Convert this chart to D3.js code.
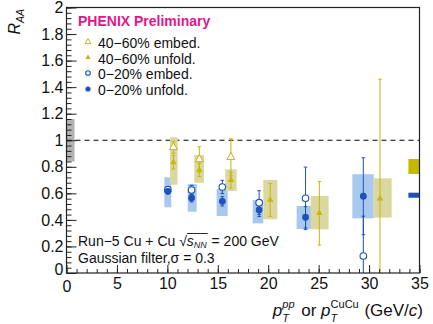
<!DOCTYPE html>
<html><head><meta charset="utf-8">
<script src="https://cdn.jsdelivr.net/npm/d3@7"></script>
<style>body{margin:0;background:#fff;} svg{display:block;font-family:"Liberation Sans",Arial,sans-serif;} text{white-space:pre;}</style>
</head><body>
<svg id="c" width="433" height="324"></svg>
<script>
// ---------- data ----------
const blueX        = [10.05, 12.4, 15.45, 19.1, 23.7, 29.43];
const blueUnfold   = [0.615, 0.565, 0.54, 0.475, 0.42, 0.578];
const blueUnfoldEr = [0.02, 0.03, 0.035, 0.05, 0.08, 0.29];
const blueEmbed    = [0.628, 0.625, 0.648, 0.53, 0.563, 0.128];
const blueEmbedEr  = [0.02, 0.035, 0.05, 0.09, 0.235, 0.3];
const blueSysLo    = [0.495, 0.462, 0.429, 0.374, 0.331, 0.412];
const blueSysHi    = [0.721, 0.670, 0.633, 0.550, 0.505, 0.744];
const blueBinLo    = [9.70, 12.02, 14.89, 18.46, 22.82, 28.34];
const blueBinHi    = [10.39, 12.91, 15.98, 19.51, 24.57, 30.46];

const yelX         = [10.6, 13.17, 16.3, 20.2, 25.07, 31.08];
const yelUnfold    = [0.834, 0.776, 0.70, 0.55, 0.45, 0.56];
const yelUnfoldEr  = [0.05, 0.05, 0.06, 0.123, 0.24, 0.9];
const yelEmbed     = [0.947, 0.856, 0.872, null, null, null];
const yelEmbedEr   = [0.045, 0.095, 0.14, null, null, null];
const yelSysLo     = [0.665, 0.680, 0.618, 0.405, 0.329, 0.417];
const yelSysHi     = [1.022, 0.889, 0.781, 0.701, 0.580, 0.713];
const yelBinLo     = [10.26, 12.67, 15.74, 19.51, 24.21, 30.46];
const yelBinHi     = [11.02, 13.63, 16.87, 20.90, 25.99, 32.24];

const normGlobal   = [0.84, 1.16];   // grey box at 1
const normYel      = [0.746, 0.859]; // right-side boxes
const normBlue     = [0.567, 0.605];

const xTicks = [0, 5, 10, 15, 20, 25, 30, 35];
const yTicks = [0, 0.2, 0.4, 0.6, 0.8, 1, 1.2, 1.4, 1.6, 1.8, 2];
const legendLabels = ["40\u221260% embed.", "40\u221260% unfold.", "0\u221220% embed.", "0\u221220% unfold."];

// ---------- drawing ----------
const YEL = "#c8b60a", YELBOX = "#dbd7a0", BLUE = "#1e52b8", BLUEBOX = "#a9c8ee";
const svg = d3.select("#c");
const x = d3.scaleLinear().domain([0, 35]).range([66.5, 419.5]);
const y = d3.scaleLinear().domain([0, 2]).range([273, 7.5]);

svg.append("defs").append("clipPath").attr("id", "pc")
  .append("rect").attr("x", x(0)).attr("y", y(2)).attr("width", x(35) - x(0)).attr("height", y(0) - y(2));
const plot = svg.append("g").attr("clip-path", "url(#pc)");

// global normalization box
plot.append("rect").attr("x", x(0)).attr("width", x(0.8) - x(0))
  .attr("y", y(normGlobal[1])).attr("height", y(normGlobal[0]) - y(normGlobal[1])).attr("fill", "#b3b3b3");
// right boxes
plot.append("rect").attr("x", x(33.9)).attr("width", x(35) - x(33.9))
  .attr("y", y(normYel[1])).attr("height", y(normYel[0]) - y(normYel[1])).attr("fill", "#c4b800");
plot.append("rect").attr("x", x(33.9)).attr("width", x(35) - x(33.9))
  .attr("y", y(normBlue[1])).attr("height", y(normBlue[0]) - y(normBlue[1])).attr("fill", "#1f50b4");

// dashed line at 1
plot.append("line").attr("x1", x(0)).attr("x2", x(35)).attr("y1", y(1)).attr("y2", y(1))
  .attr("stroke", "#000").attr("stroke-width", 1).attr("stroke-dasharray", "5,4");

// sys boxes
blueX.forEach((_, i) => {
  plot.append("rect").attr("x", x(blueBinLo[i])).attr("width", x(blueBinHi[i]) - x(blueBinLo[i]))
    .attr("y", y(blueSysHi[i])).attr("height", y(blueSysLo[i]) - y(blueSysHi[i])).attr("fill", BLUEBOX);
});
yelX.forEach((_, i) => {
  plot.append("rect").attr("x", x(yelBinLo[i])).attr("width", x(yelBinHi[i]) - x(yelBinLo[i]))
    .attr("y", y(yelSysHi[i])).attr("height", y(yelSysLo[i]) - y(yelSysHi[i])).attr("fill", YELBOX);
});

function errBar(xv, v, e, col) {
  if (v == null) return;
  const px = x(xv);
  plot.append("line").attr("x1", px).attr("x2", px).attr("y1", y(v - e)).attr("y2", y(v + e))
    .attr("stroke", col).attr("stroke-width", 1);
  [v - e, v + e].forEach(t => plot.append("line").attr("x1", px - 1.8).attr("x2", px + 1.8)
    .attr("y1", y(t)).attr("y2", y(t)).attr("stroke", col).attr("stroke-width", 1));
}
blueX.forEach((xv, i) => { errBar(xv, blueEmbed[i], blueEmbedEr[i], BLUE); errBar(xv, blueUnfold[i], blueUnfoldEr[i], BLUE); });
yelX.forEach((xv, i) => { errBar(xv, yelEmbed[i], yelEmbedEr[i], YEL); errBar(xv, yelUnfold[i], yelUnfoldEr[i], YEL); });

function drawOpenTri(g, px, py, s) { g.append("path").attr("d", d3.symbol().type(d3.symbolTriangle).size(s)()).attr("transform", `translate(${px},${py})`).attr("fill", "#fff").attr("stroke", YEL).attr("stroke-width", 1); }
function drawFillTri(g, px, py, s) { g.append("path").attr("d", d3.symbol().type(d3.symbolTriangle).size(s)()).attr("transform", `translate(${px},${py})`).attr("fill", YEL); }
function drawOpenCirc(g, px, py, r) { g.append("circle").attr("cx", px).attr("cy", py).attr("r", r).attr("fill", "#fff").attr("stroke", BLUE).attr("stroke-width", 1.1); }
function drawFillCirc(g, px, py, r) { g.append("circle").attr("cx", px).attr("cy", py).attr("r", r).attr("fill", BLUE); }

blueX.forEach((xv, i) => { if (blueEmbed[i] != null) drawOpenCirc(plot, x(xv), y(blueEmbed[i]), 3.3); });
blueX.forEach((xv, i) => drawFillCirc(plot, x(xv), y(blueUnfold[i]), 3.4));
yelX.forEach((xv, i) => { if (yelEmbed[i] != null) drawOpenTri(plot, x(xv), y(yelEmbed[i]), 28); });
yelX.forEach((xv, i) => drawFillTri(plot, x(xv), y(yelUnfold[i]), 18));

// ---------- axes ----------
const fmt = d => String(+d.toFixed(1));
const ax = svg.append("g").attr("transform", `translate(0,${y(0)})`)
  .call(d3.axisBottom(x).tickValues(xTicks).tickSize(-8).tickPadding(5).tickFormat(fmt));
const axm = svg.append("g").attr("transform", `translate(0,${y(0)})`)
  .call(d3.axisBottom(x).tickValues(d3.range(0, 36, 1)).tickSize(-4).tickFormat(""));
const ay = svg.append("g").attr("transform", `translate(${x(0)},0)`)
  .call(d3.axisLeft(y).tickValues(yTicks).tickSize(-10).tickPadding(3).tickFormat(fmt));
const aym = svg.append("g").attr("transform", `translate(${x(0)},0)`)
  .call(d3.axisLeft(y).tickValues(d3.range(0, 51, 1).map(k => k * 0.04)).tickSize(-5).tickFormat(""));
[ax, axm, ay, aym].forEach(a => { a.select(".domain").remove(); a.selectAll("line").attr("stroke", "#222"); });
[ax, ay].forEach(a => a.selectAll("text").attr("font-size", 16).attr("fill", "#111").style("font-family", "Liberation Sans, Arial, sans-serif"));
ay.selectAll("text").filter(d => d === 0).attr("dy", "0.1em");
ax.selectAll("text").filter(d => d === 0).attr("dy", "0.85em");

svg.append("rect").attr("x", x(0)).attr("y", y(2)).attr("width", x(35) - x(0)).attr("height", y(0) - y(2))
  .attr("fill", "none").attr("stroke", "#222").attr("stroke-width", 1.2);

// ---------- rich text helper ----------
function rich(parent, x0, y0, pieces, anchor, transform) {
  const g = parent.append("g");
  let cx = 0; const marks = {};
  pieces.forEach(p => {
    if (p.mark) { marks[p.mark] = cx; return; }
    const items = p.stack || [p];
    let w = 0;
    items.forEach(s => {
      const t = g.append("text").attr("x", cx).attr("y", s.dy || 0).attr("xml:space", "preserve")
        .attr("font-size", s.size).attr("font-style", s.it ? "italic" : "normal").attr("fill", "#111").text(s.t);
      w = Math.max(w, t.node().getComputedTextLength());
    });
    cx += w + (p.gap || 0);
  });
  const tx = anchor === "end" ? x0 - cx : x0;
  g.attr("transform", transform ? transform + ` translate(${tx},0)` : `translate(${tx},${y0})`);
  return { g, width: cx, marks, tx };
}

// x title
rich(svg, 423, 316, [
  { t: "p", size: 17, it: true },
  { stack: [{ t: "pp", size: 11, it: true, dy: -8 }, { t: "T", size: 11, it: true, dy: 6 }], gap: 2 },
  { t: " or ", size: 17 },
  { t: "p", size: 17, it: true },
  { stack: [{ t: "CuCu", size: 11, dy: -8 }, { t: "T", size: 11, it: true, dy: 6 }], gap: 1 },
  { t: " (GeV/", size: 17 },
  { t: "c", size: 17, it: true },
  { t: ")", size: 17 }
], "end");

// y title (rotated)
rich(svg, 0, 0, [
  { t: "R", size: 16, it: true },
  { t: "AA", size: 10.5, it: true, dy: 4 }
], "end", "translate(19.5,9) rotate(-90)");

// PHENIX Preliminary
svg.append("text").attr("x", 78).attr("y", 25.5).attr("font-size", 14).attr("font-weight", "bold")
  .attr("fill", "#e0178a").text("PHENIX Preliminary");

// legend
const legY = [42, 57.5, 73, 89];
const legBase = [47.5, 63.5, 79, 95];
legendLabels.forEach((lab, i) => {
  svg.append("text").attr("x", 98).attr("y", legBase[i]).attr("font-size", 14).attr("fill", "#111").text(lab);
});
drawOpenTri(svg, 88, legY[0], 14);
drawFillTri(svg, 88, legY[1], 12);
drawOpenCirc(svg, 88, legY[2], 2.3);
drawFillCirc(svg, 88, legY[3], 2.6);

// annotation
const ann = rich(svg, 78, 246, [
  { t: "Run\u22125 Cu + Cu ", size: 14 },
  { t: "\u221A", size: 14, gap: 0 },
  { mark: "a" },
  { t: "s", size: 14, it: true },
  { t: "NN", size: 9, it: true, dy: 1.8, gap: 0.8 },
  { mark: "b" },
  { t: " = 200 GeV", size: 14 }
], "start");
ann.g.append("line").attr("x1", ann.marks.a).attr("x2", ann.marks.b).attr("y1", -12.5).attr("y2", -12.5)
  .attr("stroke", "#111").attr("stroke-width", 0.9);
svg.append("text").attr("x", 78).attr("y", 262.5).attr("font-size", 14).attr("fill", "#111").text("Gaussian filter,\u03C3 = 0.3");
</script>
</body></html>
